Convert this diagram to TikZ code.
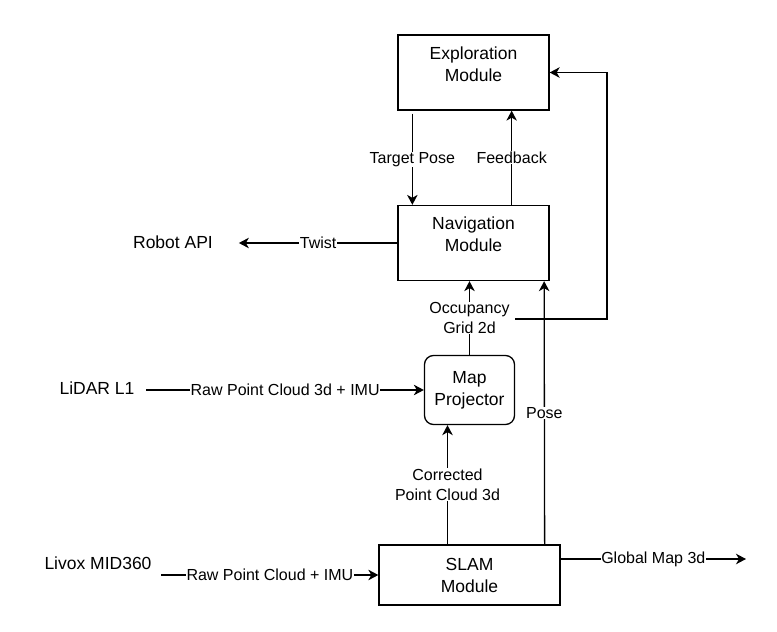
\documentclass[tikz,border=0pt]{standalone}
\usepackage{fontspec}
\setmainfont{Liberation Sans}
\usetikzlibrary{arrows.meta}

\begin{document}
\begin{tikzpicture}[x=1pt,y=-1pt,line width=1.3pt,
  box/.style={draw,minimum width=151pt,minimum height=75pt,align=center,
    font=\fontsize{17.5}{22}\selectfont},
  txt/.style={font=\fontsize{17.5}{22}\selectfont},
  lbl/.style={fill=white,inner sep=0.5pt,align=center,
    font=\fontsize{16}{20}\selectfont},
  arr/.style={-{Stealth[length=10pt,width=10.5pt,inset=3pt]}}]
\useasboundingbox (0,0) rectangle (777,632);
% modules
\node[box,text depth=17pt] (expl) at (473.5,72.5) {Exploration\\Module};
\node[box,text depth=17pt] (nav) at (473.5,243) {Navigation\\Module};
\node[box,rounded corners=9pt,minimum width=90pt,minimum height=69pt] (proj) at (469.5,390) {Map\\Projector};
\node[box,minimum width=181pt,minimum height=60pt] (slam) at (469.5,575) {SLAM\\Module};
% sensors and outputs
\node[txt] (robot) at (173,242) {Robot API};
\node[txt] (lidar) at (97,388) {LiDAR L1};
\node[txt] (livox) at (98,563) {Livox MID360};
\coordinate (mapout) at (746,559);
\coordinate (occr) at (515,319);
\coordinate (loop) at (607,319);
% connectors
\draw[arr] ([xshift=15pt,yshift=-3pt]expl.south west) -- node[lbl]{Target Pose} ([xshift=15pt]nav.north west);
\draw[arr] ([xshift=-38pt]nav.north east) -- node[lbl]{Feedback} ([xshift=-38pt]expl.south east);
\draw[arr] (nav.west) -- node[lbl]{Twist} ([xshift=22pt]robot.east |- nav.west);
\draw[arr] (proj.north) -- node[lbl] (occ) {Occupancy\\Grid 2d} (proj.north |- nav.south);
\draw[arr] (occr) -- (loop) |- (expl.east);
\draw[arr] ([xshift=-16pt]slam.north east) -- node[lbl]{Pose} ([xshift=-5.5pt]nav.south east);
\draw[arr] ([xshift=-22pt]slam.north) -- node[lbl]{Corrected\\Point Cloud 3d} ([xshift=-22pt]proj.south);
\draw[arr] ([xshift=8pt]lidar.east |- proj.west) -- node[lbl]{Raw Point Cloud 3d + IMU} (proj.west);
\draw[arr] ([xshift=6pt]livox.east |- 0,575) -- node[lbl]{Raw Point Cloud + IMU} (slam.west |- 0,575);
\draw[arr] (slam.east |- mapout) -- node[lbl]{Global Map 3d} (mapout);
\end{tikzpicture}
\end{document}
